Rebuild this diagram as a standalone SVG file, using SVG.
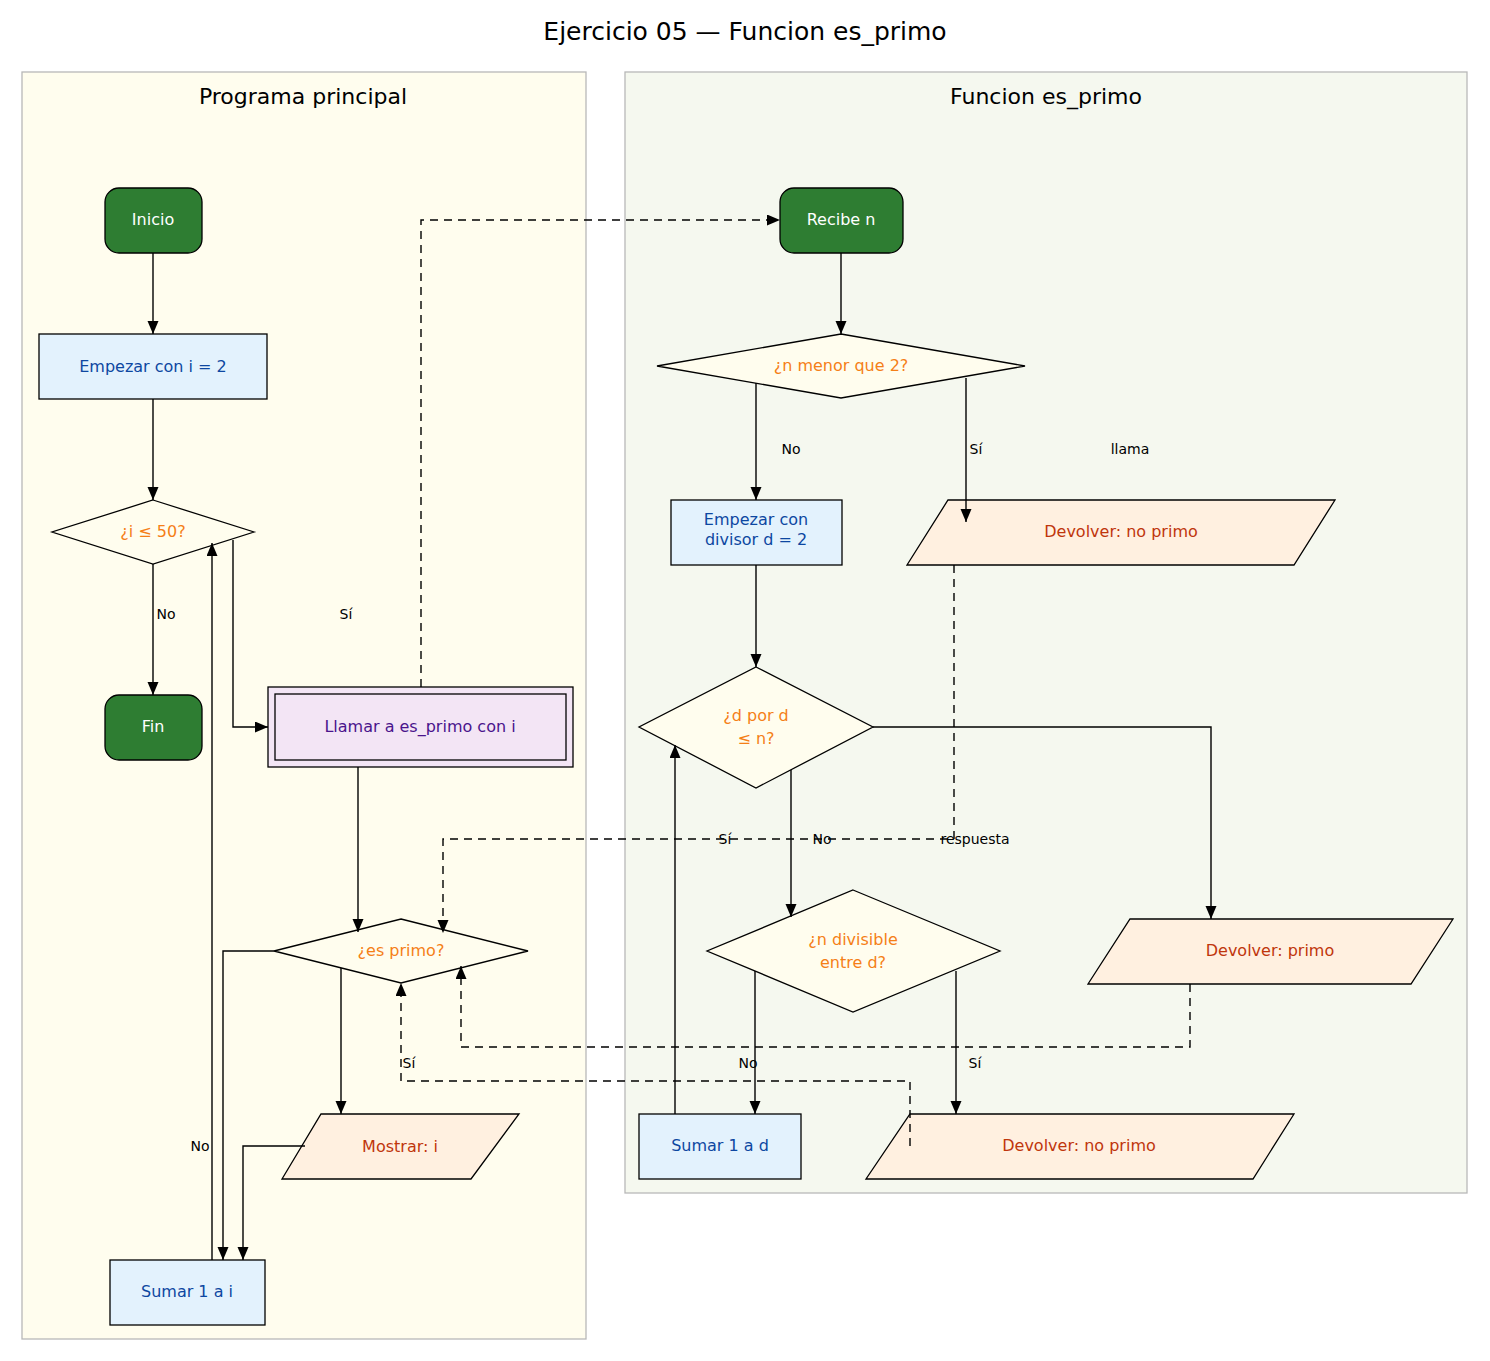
<svg xmlns="http://www.w3.org/2000/svg" width="1490" height="1361" viewBox="0 0 1490 1361">
<style>
text{font-family:"DejaVu Sans","Liberation Sans",sans-serif;text-anchor:middle}
.cl{font-size:22px}
.n{font-size:16px}
.lb{font-size:14px;fill:#000}
.e{fill:none;stroke:#000;stroke-width:1.4}
.d{stroke-dasharray:8,6}
.term{fill:#2e7d32;stroke:#000;stroke-width:1.3}
.proc{fill:#e3f2fd;stroke:#000;stroke-width:1.3}
.pt{fill:#0d47a1}
.dec{fill:#fffdee;stroke:#000;stroke-width:1.3}
.dt{fill:#f57f17}
.io{fill:#fff0e0;stroke:#000;stroke-width:1.3}
.it{fill:#bf360c}
</style>
<defs>
<marker id="a" markerUnits="userSpaceOnUse" markerWidth="14" markerHeight="12" refX="13" refY="5.5" orient="auto"><path d="M0,0L13,5.5L0,11Z" fill="#000"/></marker>
</defs>
<rect width="1490" height="1361" fill="#fff"/>
<text x="745" y="40" style="font-size:25px">Ejercicio 05 — Funcion es_primo</text>
<g id="cluster-main"><rect x="22" y="72" width="564" height="1267" fill="#fffdee" stroke="#b8b8b8" stroke-width="1.3"/><text x="303" y="104" class="cl">Programa principal</text></g>
<g id="cluster-fn"><rect x="625" y="72" width="842" height="1121" fill="#f5f8ef" stroke="#b8b8b8" stroke-width="1.3"/><text x="1046" y="104" class="cl">Funcion es_primo</text></g>

<g id="inicio"><rect class="term" x="105" y="188" width="97" height="65" rx="14"/><text x="153" y="225" class="n" fill="#fff">Inicio</text></g>
<g id="empezar-i"><rect class="proc" x="39" y="334" width="228" height="65"/><text x="153" y="372" class="n pt">Empezar con i = 2</text></g>
<g id="cond-i"><polygon class="dec" points="153,500 254,532 153,564 52,532"/><text x="153" y="537" class="n dt">¿i ≤ 50?</text></g>
<g id="fin"><rect class="term" x="105" y="695" width="97" height="65" rx="14"/><text x="153" y="732" class="n" fill="#fff">Fin</text></g>
<g id="llamar"><rect x="268" y="687" width="305" height="80" fill="#f3e5f5" stroke="#000" stroke-width="1.3"/><rect x="275" y="694" width="291" height="66" fill="none" stroke="#000" stroke-width="1.3"/><text x="420" y="732" class="n" fill="#4a148c">Llamar a es_primo con i</text></g>
<g id="es-primo"><polygon class="dec" points="401,919 528,951 401,983 274,951"/><text x="401" y="956" class="n dt">¿es primo?</text></g>
<g id="mostrar"><polygon class="io" points="321,1114 519,1114 471,1179 282,1179"/><text x="400" y="1152" class="n it">Mostrar: i</text></g>
<g id="sumar-i"><rect class="proc" x="110" y="1260" width="155" height="65"/><text x="187" y="1297" class="n pt">Sumar 1 a i</text></g>

<g id="recibe"><rect class="term" x="780" y="188" width="123" height="65" rx="14"/><text x="841" y="225" class="n" fill="#fff">Recibe n</text></g>
<g id="menor2"><polygon class="dec" points="841,334 1025,366 841,398 657,366"/><text x="841" y="371" class="n dt">¿n menor que 2?</text></g>
<g id="empezar-d"><rect class="proc" x="671" y="500" width="171" height="65"/><text x="756" y="525" class="n pt">Empezar con</text><text x="756" y="545" class="n pt">divisor d = 2</text></g>
<g id="no-primo-1"><polygon class="io" points="948,500 1335,500 1294,565 907,565"/><text x="1121" y="537" class="n it">Devolver: no primo</text></g>
<g id="dxd"><polygon class="dec" points="756,667 873,727 756,788 639,727"/><text x="756" y="721" class="n dt">¿d por d</text><text x="756" y="744" class="n dt">≤ n?</text></g>
<g id="divisible"><polygon class="dec" points="853,890 1000,951 853,1012 707,951"/><text x="853" y="945" class="n dt">¿n divisible</text><text x="853" y="968" class="n dt">entre d?</text></g>
<g id="primo"><polygon class="io" points="1130,919 1453,919 1411,984 1088,984"/><text x="1270" y="956" class="n it">Devolver: primo</text></g>
<g id="sumar-d"><rect class="proc" x="639" y="1114" width="162" height="65"/><text x="720" y="1151" class="n pt">Sumar 1 a d</text></g>
<g id="no-primo-2"><polygon class="io" points="910,1114 1294,1114 1253,1179 866,1179"/><text x="1079" y="1151" class="n it">Devolver: no primo</text></g>

<g id="edges">
<path class="e" d="M153,253V334" marker-end="url(#a)"/>
<path class="e" d="M153,399V500" marker-end="url(#a)"/>
<path class="e" d="M153,564V695" marker-end="url(#a)"/>
<text x="166" y="619" class="lb">No</text>
<path class="e" d="M233,540V727H268" marker-end="url(#a)"/>
<text x="346" y="619" class="lb">Sí</text>
<path class="e d" d="M421,687V220H780" marker-end="url(#a)"/>
<text x="1130" y="454" class="lb">llama</text>
<path class="e" d="M358,767V932" marker-end="url(#a)"/>
<path class="e" d="M341,968V1114" marker-end="url(#a)"/>
<path class="e" d="M274,951H223V1260" marker-end="url(#a)"/>
<text x="200" y="1151" class="lb">No</text>
<path class="e" d="M305,1146H243V1260" marker-end="url(#a)"/>
<path class="e" d="M212,1260V543" marker-end="url(#a)"/>
<path class="e" d="M841,253V334" marker-end="url(#a)"/>
<path class="e" d="M756,383V500" marker-end="url(#a)"/>
<text x="791" y="454" class="lb">No</text>
<path class="e" d="M966,378V522" marker-end="url(#a)"/>
<text x="976" y="454" class="lb">Sí</text>
<path class="e d" d="M954,565V839H443V933" marker-end="url(#a)"/>
<text x="975" y="844" class="lb">respuesta</text>
<path class="e" d="M756,565V667" marker-end="url(#a)"/>
<path class="e" d="M873,727H1211V919" marker-end="url(#a)"/>
<path class="e" d="M791,770V917" marker-end="url(#a)"/>
<text x="822" y="844" class="lb">No</text>
<path class="e" d="M675,1114V745" marker-end="url(#a)"/>
<text x="725" y="844" class="lb">Sí</text>
<path class="e" d="M755,971V1114" marker-end="url(#a)"/>
<text x="748" y="1068" class="lb">No</text>
<path class="e" d="M956,971V1114" marker-end="url(#a)"/>
<text x="975" y="1068" class="lb">Sí</text>
<path class="e d" d="M1190,984V1047H461V966" marker-end="url(#a)"/>
<path class="e d" d="M910,1146V1081H401V983" marker-end="url(#a)"/>
<text x="409" y="1068" class="lb">Sí</text>
</g>
</svg>
